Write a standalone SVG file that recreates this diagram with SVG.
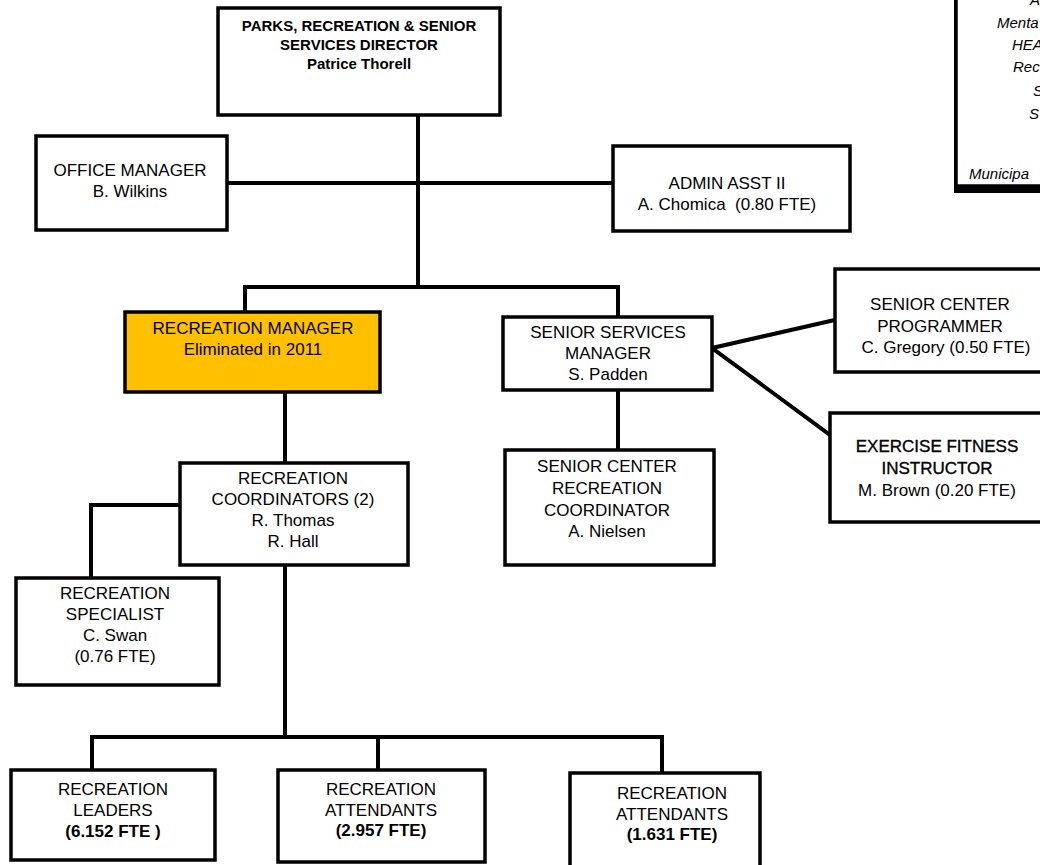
<svg xmlns="http://www.w3.org/2000/svg" width="1040" height="865" viewBox="0 0 1040 865">
  <style>
    .box { fill: #ffffff; stroke: #000000; stroke-width: 3.5; }
    .hi { fill: #ffc000; stroke: #000000; stroke-width: 3.5; }
    .t { font-family: "Liberation Sans", Arial, sans-serif; font-size: 17px; fill: #000000; text-anchor: middle; }
    .d { font-size: 15px; font-weight: bold; }
    .b { font-weight: bold; }
    .m { stroke: #000000; stroke-width: 0.35; }
    .note { font-family: "Liberation Sans", Arial, sans-serif; font-size: 15px; font-style: italic; fill: #000000; }
    .wire { fill: none; stroke: #000000; stroke-width: 4; stroke-linejoin: miter; stroke-linecap: square; }
  </style>

  <rect width="1040" height="865" fill="#ffffff"/>

  <!-- connectors -->
  <g id="connectors">
    <path class="wire" d="M418 115 V287"/>
    <path class="wire" d="M227 183 H613"/>
    <path class="wire" d="M245 312 V287 H618 V317"/>
    <path class="wire" d="M712 348 L835 320"/>
    <path class="wire" d="M712 348 L830 435"/>
    <path class="wire" d="M618 390 V450"/>
    <path class="wire" d="M285 392 V463"/>
    <path class="wire" d="M180 505 H91 V578"/>
    <path class="wire" d="M285 565 V737"/>
    <path class="wire" d="M92 770 V737 H662 V773"/>
    <path class="wire" d="M378 737 V770"/>
  </g>

  <!-- legend box at the top right, running past the page edge -->
  <g id="legend">
    <rect x="954" y="-10" width="100" height="203" fill="#000000"/>
    <rect x="957" y="-10" width="100" height="195" fill="#ffffff" stroke="#000000" stroke-width="1.5"/>
    <text class="note" x="1030" y="5">A</text>
    <text class="note" x="997" y="28">Menta</text>
    <text class="note" x="1012" y="50">HEA</text>
    <text class="note" x="1013" y="72">Rec</text>
    <text class="note" x="1033" y="96">S</text>
    <text class="note" x="1029" y="119">S</text>
    <text class="note" x="969" y="179">Municipa</text>
  </g>

  <g id="director">
    <rect class="box" x="218" y="8" width="282" height="107"/>
    <text class="t d" x="359" y="31">PARKS, RECREATION &amp; SENIOR</text>
    <text class="t d" x="359" y="50">SERVICES DIRECTOR</text>
    <text class="t d" x="359" y="69">Patrice Thorell</text>
  </g>

  <g id="office-manager">
    <rect class="box" x="36" y="136" width="191" height="94"/>
    <text class="t" x="130" y="176">OFFICE MANAGER</text>
    <text class="t" x="130" y="197">B. Wilkins</text>
  </g>

  <g id="admin-asst">
    <rect class="box" x="613" y="146" width="237" height="85"/>
    <text class="t" x="727" y="189">ADMIN ASST II</text>
    <text class="t" x="727" y="210">A. Chomica&#160; (0.80 FTE)</text>
  </g>

  <g id="recreation-manager">
    <rect class="hi" x="125" y="312" width="255" height="80"/>
    <text class="t" x="253" y="334" fill="#1a1a1a">RECREATION MANAGER</text>
    <text class="t" x="253" y="355" fill="#1a1a1a">Eliminated in 2011</text>
  </g>

  <g id="senior-services-manager">
    <rect class="box" x="503" y="317" width="209" height="73"/>
    <text class="t" x="608" y="338">SENIOR SERVICES</text>
    <text class="t" x="608" y="359">MANAGER</text>
    <text class="t" x="608" y="380">S. Padden</text>
  </g>

  <g id="senior-center-programmer">
    <rect class="box" x="835" y="269" width="220" height="103"/>
    <text class="t" x="940" y="310">SENIOR CENTER</text>
    <text class="t" x="940" y="332">PROGRAMMER</text>
    <text class="t" x="946" y="353">C. Gregory (0.50 FTE)</text>
  </g>

  <g id="exercise-fitness-instructor">
    <rect class="box" x="830" y="413" width="225" height="109"/>
    <text class="t m" x="937" y="452">EXERCISE FITNESS</text>
    <text class="t m" x="937" y="474">INSTRUCTOR</text>
    <text class="t" x="937" y="496">M. Brown (0.20 FTE)</text>
  </g>

  <g id="senior-center-recreation-coordinator">
    <rect class="box" x="505" y="450" width="209" height="115"/>
    <text class="t" x="607" y="472">SENIOR CENTER</text>
    <text class="t" x="607" y="494">RECREATION</text>
    <text class="t" x="607" y="516">COORDINATOR</text>
    <text class="t" x="607" y="537">A. Nielsen</text>
  </g>

  <g id="recreation-coordinators">
    <rect class="box" x="180" y="463" width="228" height="102"/>
    <text class="t" x="293" y="484">RECREATION</text>
    <text class="t" x="293" y="505">COORDINATORS (2)</text>
    <text class="t" x="293" y="526">R. Thomas</text>
    <text class="t" x="293" y="547">R. Hall</text>
  </g>

  <g id="recreation-specialist">
    <rect class="box" x="16" y="578" width="203" height="107"/>
    <text class="t" x="115" y="599">RECREATION</text>
    <text class="t" x="115" y="620">SPECIALIST</text>
    <text class="t" x="115" y="641">C. Swan</text>
    <text class="t" x="115" y="662">(0.76 FTE)</text>
  </g>

  <g id="recreation-leaders">
    <rect class="box" x="11" y="770" width="204" height="90"/>
    <text class="t" x="113" y="795">RECREATION</text>
    <text class="t" x="113" y="816">LEADERS</text>
    <text class="t b" x="113" y="837">(6.152 FTE )</text>
  </g>

  <g id="recreation-attendants-a">
    <rect class="box" x="278" y="770" width="207" height="92"/>
    <text class="t" x="381" y="795">RECREATION</text>
    <text class="t" x="381" y="816">ATTENDANTS</text>
    <text class="t b" x="381" y="836">(2.957 FTE)</text>
  </g>

  <g id="recreation-attendants-b">
    <rect class="box" x="570" y="773" width="190" height="94"/>
    <text class="t" x="672" y="799">RECREATION</text>
    <text class="t" x="672" y="820">ATTENDANTS</text>
    <text class="t b" x="672" y="840">(1.631 FTE)</text>
  </g>
</svg>
